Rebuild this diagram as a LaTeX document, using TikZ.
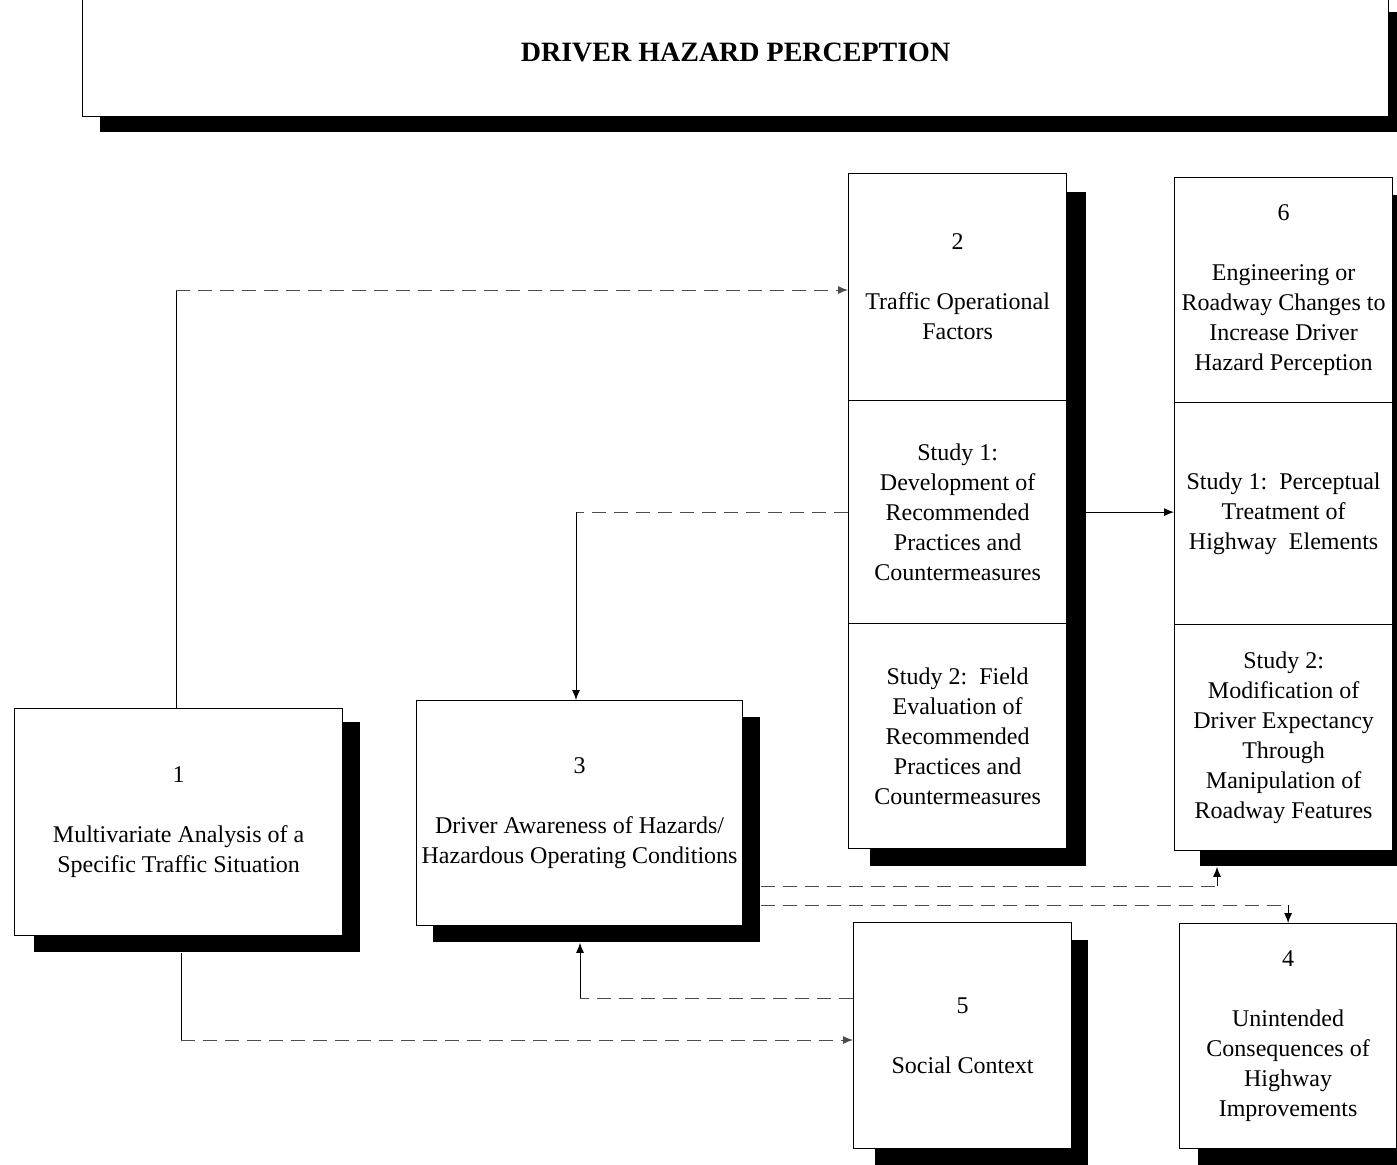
\documentclass[tikz,border=0pt]{standalone}
\usepackage{fontspec}
\setmainfont{Liberation Serif}
\usetikzlibrary{arrows.meta}
\begin{document}
\begin{tikzpicture}[x=0.5pt,y=-0.5pt,
 box/.style={draw, fill=white, line width=0.6pt, inner sep=0pt, anchor=north west, align=center, font=\fontsize{12}{15}\selectfont},
 shad/.style={fill=black, draw=none, inner sep=0pt, anchor=north west},
 conn/.style={line width=0.5pt},
 faint/.style={line width=0.5pt, draw=black!70, dash pattern=on 7pt off 4pt},
 tip/.style={-{Latex[length=5pt,width=4pt]}}]
\useasboundingbox (0,0) rectangle (1397,1164);
\clip (0,0) rectangle (1397,1164);

% header
\node[shad, minimum width=648.5pt, minimum height=60pt] (sh) at (100,12) {};
\node[box, minimum width=653pt, minimum height=64pt, font=\fontsize{14}{16}\selectfont\bfseries] (hdr) at (82,-12) {DRIVER HAZARD PERCEPTION};

% shadows
\node[shad, minimum width=163pt, minimum height=115pt] (s1) at (34,722) {};
\node[shad, minimum width=163.5pt, minimum height=112.5pt] (s3) at (433,717) {};
\node[shad, minimum width=108pt, minimum height=337pt] (s2) at (870,192) {};
\node[shad, minimum width=106pt, minimum height=335.5pt] (s6) at (1200,195) {};
\node[shad, minimum width=106.5pt, minimum height=117.5pt] (s5) at (875,940) {};
\node[shad, minimum width=108.5pt, minimum height=117pt] (s4) at (1198,941) {};

% boxes
\node[box, minimum width=164pt, minimum height=113.5pt] (b1) at (14,708)
  {1\\[15pt]Multivariate Analysis of a\\Specific Traffic Situation};
\node[box, minimum width=163pt, minimum height=112.5pt] (b3) at (416,700)
  {3\\[15pt]Driver Awareness of Hazards/\\Hazardous Operating Conditions};
\node[box, minimum width=109pt, minimum height=113.5pt] (b2a) at (848,173)
  {2\\[15pt]Traffic Operational\\Factors};
\node[box, minimum width=109pt, minimum height=111.5pt] (b2b) at (848,400)
  {Study 1:\\Development of\\Recommended\\Practices and\\Countermeasures};
\node[box, minimum width=109pt, minimum height=112.5pt] (b2c) at (848,623)
  {Study 2:\ \ Field\\Evaluation of\\Recommended\\Practices and\\Countermeasures};
\node[box, minimum width=109pt, minimum height=112.5pt] (b6a) at (1174,177)
  {6\\[15pt]Engineering or\\Roadway Changes to\\Increase Driver\\Hazard Perception};
\node[box, minimum width=109pt, minimum height=111pt] (b6b) at (1174,402)
  {Study 1:\ \ Perceptual\\Treatment of\\Highway\ \ Elements};
\node[box, minimum width=109pt, minimum height=113pt] (b6c) at (1174,624)
  {Study 2:\\Modification of\\Driver Expectancy\\Through\\Manipulation of\\Roadway Features};
\node[box, minimum width=109pt, minimum height=113pt] (b5) at (853,922)
  {5\\[15pt]Social Context};
\node[box, minimum width=108.5pt, minimum height=112.5pt] (b4) at (1179,923)
  {4\\[15pt]Unintended\\Consequences of\\Highway\\Improvements};

% connectors
\coordinate (k1) at (176,290);
\draw[conn] (k1 |- b1.north) -- (k1);
\draw[faint,tip] (k1) -- (k1 -| b2a.west);

\coordinate (k2) at (576,512);
\draw[faint] (b2b.west |- k2) -- (k2);
\draw[conn,tip] (k2) -- (k2 |- b3.north);

\draw[conn,tip] (b2b.east) -- (b6b.west |- b2b.east);

\coordinate (k4) at (1217,886);
\draw[faint] (s3.east |- k4) -- (k4);
\draw[conn,tip] (k4) -- (k4 |- s6.south);

\coordinate (k5) at (b4.north |- 0,905);
\draw[faint] (s3.east |- k5) -- (k5);
\draw[conn,tip] (k5) -- (b4.north);

\coordinate (k6) at (181,1040);
\draw[conn] (k6 |- s1.south) -- (k6);
\draw[faint,tip] (k6) -- (k6 -| b5.west);

\coordinate (k7) at (580,998);
\draw[faint] (k7 -| b5.west) -- (k7);
\draw[conn,tip] (k7) -- (k7 |- s3.south);
\end{tikzpicture}
\end{document}
